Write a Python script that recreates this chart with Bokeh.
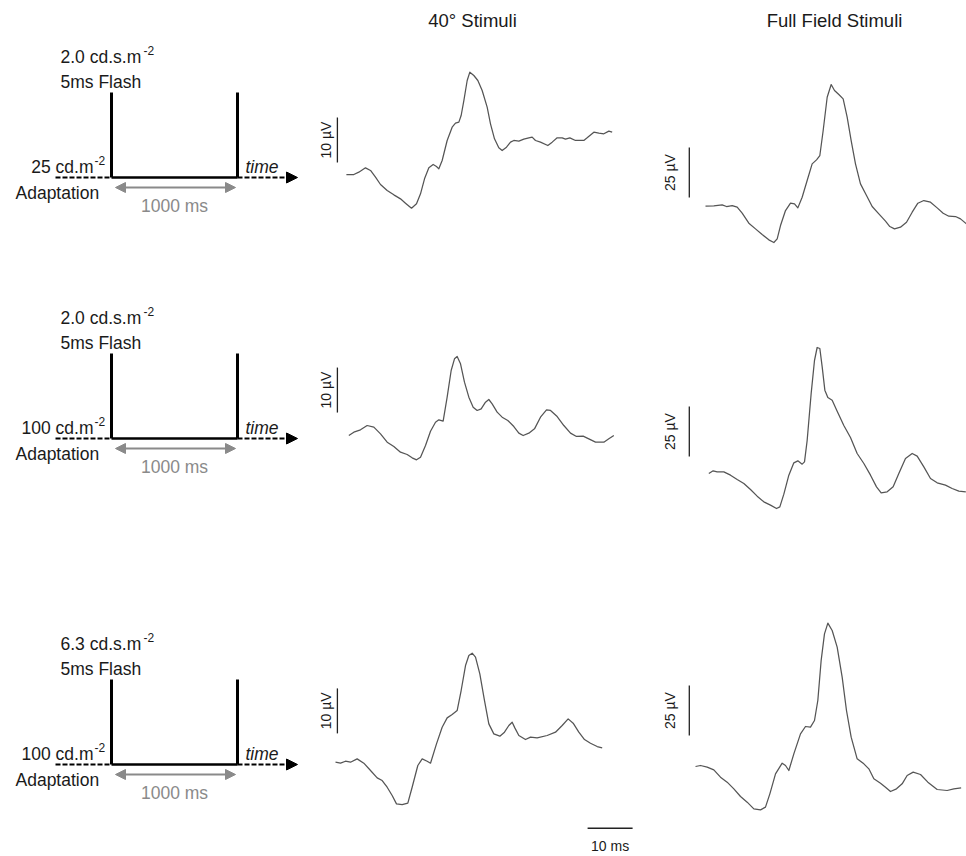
import math
from bokeh.plotting import figure
from bokeh.models import Range1d, Arrow, NormalHead
from bokeh.core.properties import value
from bokeh.embed import file_html
from bokeh.resources import INLINE

# ---------------- data (time in ms, amplitude in microvolts) ----------------
col_titles = ["40° Stimuli", "Full Field Stimuli"]
flash_labels = ["2.0 cd.s.m", "2.0 cd.s.m", "6.3 cd.s.m"]
adapt_labels = ["25 cd.m", "100 cd.m", "100 cd.m"]
scale_labels = ["10 µV", "25 µV"]
scale_amp = [10, 25]
time_bar_ms = 10

t_r1_40 = [0.2, 1.85, 2.96, 4.44, 5.56, 6.67, 7.78, 9.26, 10.74, 12.22, 13.33, 14.67, 15.78, 16.67,
           17.56, 18.52, 19.48, 20.22, 20.74, 21.48, 22.59, 23.70, 24.44, 25.19, 25.70, 26.30, 27.04,
           27.63, 28.52, 29.41, 30.37, 31.48, 32.22, 33.11, 34.07, 34.81, 35.78, 36.67, 37.41, 38.52,
           39.63, 40.74, 41.48, 42.22, 43.33, 44.96, 45.93, 47.04, 48.15, 48.89, 49.85, 51.11, 52.96,
           53.70, 55.19, 56.30, 57.41, 58.52, 59.26]
v_r1_40 = [0.0, 0.0, 0.52, 1.48, 0.89, -0.59, -2.22, -3.56, -4.52, -5.41, -6.37, -7.48, -6.52, -4.30,
           -0.96, 1.48, 2.22, 1.78, 1.26, 3.11, 7.56, 10.52, 11.41, 11.63, 13.11, 16.44, 20.89,
           22.74, 22.0, 20.89, 18.67, 14.96, 11.26, 7.93, 5.93, 5.33, 6.07, 7.19, 7.56, 7.41,
           7.85, 8.15, 8.30, 7.56, 7.19, 6.44, 7.19, 8.15, 8.15, 7.85, 8.15, 7.56, 7.56,
           8.15, 9.41, 9.19, 9.04, 9.63, 9.41]

t_r1_ff = [0.0, 1.85, 3.70, 4.67, 5.93, 7.04, 8.15, 9.63, 11.11, 12.59, 14.07, 15.19, 15.93, 16.67,
           17.78, 18.89, 19.78, 20.52, 21.48, 22.59, 23.70, 24.67, 25.41, 26.15, 27.04, 27.93, 28.67,
           29.63, 30.59, 31.48, 32.37, 33.33, 34.44, 35.78, 37.04, 38.52, 40.0, 40.96, 42.0, 43.33,
           44.67, 45.93, 47.19, 48.52, 50.0, 51.48, 52.81, 54.07, 55.56, 56.67, 58.0]
v_r1_ff = [0.0, 0.17, 0.67, -0.17, 0.33, -0.5, -3.5, -8.5, -11.33, -14.17, -16.83, -18.17, -16.33, -9.67,
           -2.17, 1.5, 1.17, -0.83, 4.5, 12.83, 21.17, 23.17, 25.33, 37.83, 54.5, 60.83, 57.83,
           55.83, 53.67, 44.5, 32.83, 21.17, 11.17, 5.33, -0.17, -3.83, -7.5, -10.17, -11.33, -10.5,
           -8.0, -3.0, 1.5, 2.83, 2.0, -0.83, -3.5, -5.0, -5.17, -6.33, -8.83]

t_r2_40 = [0.74, 1.85, 3.33, 4.81, 6.30, 7.78, 9.26, 10.74, 12.22, 13.70, 14.81, 15.78, 16.67, 17.78,
           18.89, 20.0, 20.74, 21.70, 22.59, 23.48, 24.22, 24.81, 25.56, 26.44, 27.41, 28.37, 29.26,
           30.15, 31.11, 31.85, 32.59, 33.70, 34.81, 36.07, 37.41, 38.52, 39.48, 40.74, 42.0, 43.33,
           44.67, 45.56, 47.04, 48.52, 50.0, 51.33, 52.81, 54.07, 55.56, 57.41, 58.52, 59.63]
v_r2_40 = [0.0, 0.74, 1.26, 2.22, 1.85, 0.37, -1.48, -2.44, -3.70, -4.22, -4.96, -5.41, -4.81, -2.22,
           0.96, 2.96, 3.48, 3.19, 8.52, 14.44, 17.04, 17.56, 15.93, 11.85, 8.52, 6.30, 5.56,
           5.93, 7.41, 8.0, 7.04, 5.19, 4.07, 3.33, 2.0, 0.52, 0.0, 0.52, 1.48, 4.07,
           5.70, 5.56, 4.22, 2.22, 0.52, -0.22, -0.15, -0.74, -1.48, -1.48, -0.74, 0.0]

t_r2_ff = [0.74, 1.70, 2.59, 4.07, 5.56, 7.04, 8.52, 10.0, 11.48, 12.96, 14.44, 15.78, 16.52, 17.41,
           18.52, 19.63, 20.52, 21.48, 22.0, 22.59, 23.48, 24.22, 24.81, 25.41, 25.93, 26.52, 27.19,
           28.15, 29.26, 30.74, 32.22, 33.70, 35.19, 36.67, 38.0, 39.04, 40.37, 41.70, 42.96, 44.44,
           45.93, 47.04, 48.52, 50.0, 51.48, 53.33, 54.81, 56.30, 57.85]
v_r2_ff = [0.0, 1.33, 0.83, 0.83, -0.83, -3.0, -5.0, -8.0, -11.33, -14.17, -15.83, -17.5, -16.67, -10.33,
           -0.83, 5.33, 6.33, 4.67, 5.83, 16.5, 40.0, 56.5, 63.0, 62.5, 53.33, 41.67, 38.0,
           36.67, 31.17, 24.0, 18.0, 10.0, 5.0, -0.83, -6.67, -9.67, -9.17, -6.67, 0.0, 7.5,
           10.0, 8.67, 3.33, -2.5, -4.67, -5.83, -7.5, -8.83, -9.17]

t_r3_40 = [-2.22, -1.11, 0.0, 1.11, 2.59, 4.07, 5.56, 7.04, 8.15, 9.26, 10.37, 11.33, 12.59, 13.85,
           14.81, 16.07, 17.04, 18.15, 18.89, 20.22, 21.48, 22.59, 23.70, 24.81, 25.70, 26.67, 27.41,
           28.15, 28.89, 29.85, 30.89, 31.85, 32.96, 34.30, 35.33, 36.30, 37.04, 37.63, 38.52, 40.0,
           41.11, 42.59, 44.81, 46.67, 48.15, 49.48, 50.59, 51.85, 53.11, 54.44, 55.93, 57.04]
v_r3_40 = [0.0, -0.22, 0.22, 0.0, 0.74, -0.22, -1.85, -3.48, -4.07, -5.56, -7.41, -9.26, -9.41, -9.11,
           -5.56, -0.74, 0.74, 0.22, -0.22, 4.07, 7.78, 9.85, 10.59, 11.48, 15.93, 21.48, 23.70,
           24.22, 23.33, 19.63, 13.70, 8.52, 6.30, 5.78, 6.67, 8.15, 8.89, 7.63, 5.93, 5.04,
           5.56, 5.41, 5.93, 6.67, 8.15, 9.63, 8.67, 6.67, 5.04, 4.22, 3.48, 3.19]

t_r3_ff = [-2.22, -1.11, 0.37, 1.85, 3.33, 4.81, 6.30, 7.78, 9.26, 10.74, 12.22, 13.33, 14.30, 15.56,
           17.04, 17.78, 18.52, 19.63, 21.11, 22.22, 23.33, 24.22, 24.96, 25.70, 26.44, 27.19, 28.15,
           29.26, 30.37, 31.33, 32.37, 33.70, 35.19, 36.30, 37.41, 38.89, 40.0, 41.11, 42.44, 43.70,
           44.81, 46.15, 47.78, 49.41, 51.48, 53.70, 55.19, 56.81]
v_r3_ff = [0.0, 0.5, -0.33, -1.67, -5.33, -7.83, -11.17, -15.0, -17.83, -21.17, -21.67, -20.33, -13.67, -3.67,
           1.67, 0.5, -2.0, 6.33, 16.33, 20.0, 19.67, 23.0, 33.0, 53.0, 66.33, 71.67, 68.0,
           59.67, 44.67, 28.0, 14.67, 3.83, 1.33, -1.17, -6.17, -8.33, -10.33, -12.5, -11.17, -8.67,
           -4.5, -2.83, -4.0, -7.83, -11.5, -12.0, -11.17, -10.67]

# ---------------- layout / style ----------------
W, H = 966, 856
FONT = "Liberation Sans"
TXT = "#1a1a1a"
TRACE = "#555555"
GRAY = "#8a8a8a"
PX_PER_MS = 4.5
col_x0 = [345, 705]           # pixel of t = 0 per column
col_px_per_uv = [4.5, 2.0]
row_base = [[174.0, 205.7], [435.0, 473.0], [761.7, 766.0]]   # pixel of 0 uV per panel
bar_bottom_uv = [[2.67, 4.35], [5.1, 8.5], [6.4, 15.5]]
bar_t = [-1.8, -3.6]
label_t = [-4.4, -8.0]

traces = [[(t_r1_40, v_r1_40), (t_r1_ff, v_r1_ff)],
          [(t_r2_40, v_r2_40), (t_r2_ff, v_r2_ff)],
          [(t_r3_40, v_r3_40), (t_r3_ff, v_r3_ff)]]

p = figure(width=W, height=H, output_backend="svg", toolbar_location=None,
           x_range=Range1d(0, W), y_range=Range1d(H, 0),
           x_axis_location=None, y_axis_location=None, min_border=0)
p.grid.visible = False
p.outline_line_color = None
p.background_fill_color = "white"
p.border_fill_color = "white"


def txt(x, y, s, size=17.5, align="left", color=TXT, style="normal", angle=0.0,
        xr="default", yr="default"):
    p.text(x=[x], y=[y], text=[s], text_font=value(FONT), text_font_size=value(f"{size}px"),
           text_align=align, text_baseline="middle", text_color=color,
           text_font_style=style, angle=angle, x_range_name=xr, y_range_name=yr)


# titles
txt(472, 20, col_titles[0], size=18.5, align="center")
txt(834, 20, col_titles[1], size=18.5, align="center")

# stimulus diagrams
for r in range(3):
    B = [177, 438, 764][r]
    xl, xr_ = 111, 237
    p.segment(x0=[xl, xr_], y0=[B - 85, B - 85], x1=[xl, xr_], y1=[B, B],
              line_color="black", line_width=3)
    p.segment(x0=[xl], y0=[B], x1=[xr_], y1=[B], line_color="black", line_width=2.5)
    p.segment(x0=[55], y0=[B], x1=[xl], y1=[B], line_color="black", line_width=2,
              line_dash="5 2")
    p.add_layout(Arrow(end=NormalHead(size=11, fill_color="black", line_color="black"),
                       x_start=xr_, y_start=B, x_end=297, y_end=B,
                       line_color="black", line_width=2, line_dash="5 2"))
    p.add_layout(Arrow(start=NormalHead(size=10, fill_color=GRAY, line_color=GRAY),
                       end=NormalHead(size=10, fill_color=GRAY, line_color=GRAY),
                       x_start=115, y_start=B + 10, x_end=235, y_end=B + 10,
                       line_color=GRAY, line_width=2.2))
    txt(60, B - 121, flash_labels[r])
    txt(143, B - 127, "-2", size=12)
    txt(60, B - 96, "5ms Flash")
    txt(93, B - 11, adapt_labels[r], align="right")
    txt(94, B - 17, "-2", size=12)
    txt(245, B - 11, "time", style="italic")
    txt(15, B + 15, "Adaptation")
    txt(174, B + 28, "1000 ms", color=GRAY, align="center")

# ERG traces with scale bars
for r in range(3):
    for c in range(2):
        x0 = col_x0[c]
        s = col_px_per_uv[c]
        yb = row_base[r][c]
        xn, yn = f"x{r}{c}", f"y{r}{c}"
        p.extra_x_ranges[xn] = Range1d(-x0 / PX_PER_MS, (W - x0) / PX_PER_MS)
        p.extra_y_ranges[yn] = Range1d((yb - H) / s, yb / s)
        t, v = traces[r][c]
        p.line(t, v, x_range_name=xn, y_range_name=yn, line_color=TRACE, line_width=1.25,
               line_join="round")
        b0 = bar_bottom_uv[r][c]
        amp = scale_amp[c]
        p.segment(x0=[bar_t[c]], y0=[b0], x1=[bar_t[c]], y1=[b0 + amp],
                  x_range_name=xn, y_range_name=yn, line_color="#222222", line_width=1.3)
        txt(label_t[c], b0 + amp / 2, scale_labels[c], size=14, align="center",
            angle=math.pi / 2, xr=xn, yr=yn)
        if r == 2 and c == 0:
            tb0 = 53.8
            vb = -14.7
            p.segment(x0=[tb0], y0=[vb], x1=[tb0 + time_bar_ms], y1=[vb],
                      x_range_name=xn, y_range_name=yn, line_color="#222222", line_width=1.5)
            txt(tb0 + time_bar_ms / 2, vb - 4.0, f"{time_bar_ms} ms", size=14, align="center",
                xr=xn, yr=yn)

open("out.html", "w").write(file_html(p, INLINE))
